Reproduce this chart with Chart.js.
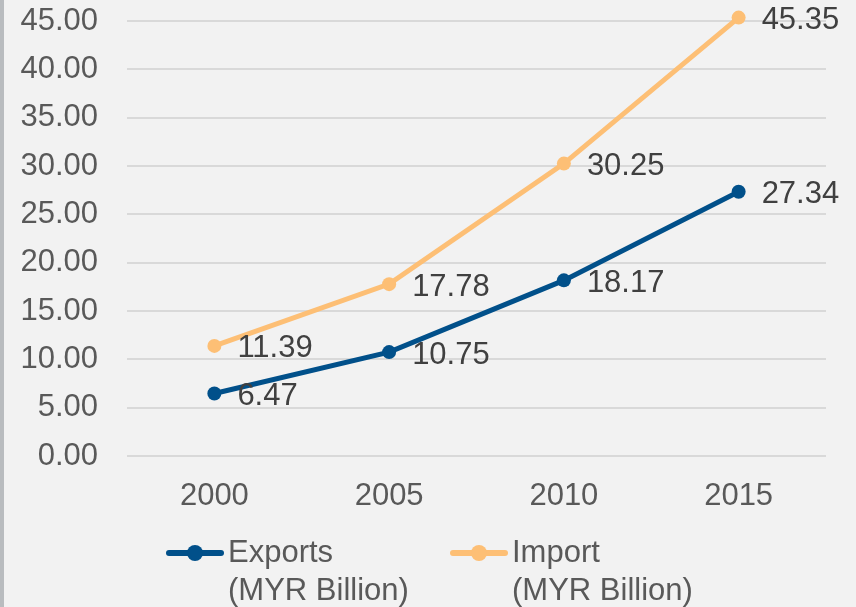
<!DOCTYPE html>
<html>
<head>
<meta charset="utf-8">
<script src="https://cdn.jsdelivr.net/npm/chart.js@4.4.0/dist/chart.umd.min.js"></script>
<style>
html,body{margin:0;padding:0;background:#f2f2f2;}
#wrap{position:relative;width:856px;height:607px;}
#edge{position:absolute;left:0;top:0;width:4px;height:607px;background:#b9bcbf;}
</style>
</head>
<body>
<div id="wrap"><div id="edge"></div><canvas id="c" width="856" height="607"></canvas></div>
<script>
const categories = ['2000', '2005', '2010', '2015'];
const exportsValues = [6.47, 10.75, 18.17, 27.34];
const importValues = [11.39, 17.78, 30.25, 45.35];
const seriesNames = [['Exports', '(MYR Billion)'], ['Import', '(MYR Billion)']];
const exportsColor = '#01508a';
const importColor = '#fdbf75';
const FONT = '"Liberation Sans", Arial, sans-serif';

const labelPlugin = {
  id: 'pointLabels',
  afterDatasetsDraw(chart) {
    const ctx = chart.ctx;
    ctx.save();
    ctx.font = '31px ' + FONT;
    ctx.fillStyle = '#404040';
    ctx.textAlign = 'left';
    ctx.textBaseline = 'middle';
    chart.data.datasets.forEach((ds, i) => {
      const meta = chart.getDatasetMeta(i);
      meta.data.forEach((pt, j) => {
        ctx.fillText(ds.data[j].toFixed(2), pt.x + 23, pt.y + 3);
      });
    });
    ctx.restore();
  }
};

const legendPlugin = {
  id: 'customLegend',
  afterDraw(chart) {
    const ctx = chart.ctx;
    ctx.save();
    const items = [
      {x: 167, color: exportsColor, text: seriesNames[0]},
      {x: 451, color: importColor, text: seriesNames[1]}
    ];
    const y = 553;
    items.forEach(it => {
      ctx.strokeStyle = it.color;
      ctx.lineWidth = 6;
      ctx.lineCap = 'round';
      ctx.beginPath();
      ctx.moveTo(it.x + 2, y);
      ctx.lineTo(it.x + 54, y);
      ctx.stroke();
      ctx.fillStyle = it.color;
      ctx.beginPath();
      ctx.arc(it.x + 28, y, 8, 0, Math.PI * 2);
      ctx.fill();
      ctx.fillStyle = '#595959';
      ctx.font = '31px ' + FONT;
      ctx.textAlign = 'left';
      ctx.textBaseline = 'middle';
      ctx.fillText(it.text[0], it.x + 61, y);
      ctx.fillText(it.text[1], it.x + 61, y + 38);
    });
    ctx.restore();
  }
};

new Chart(document.getElementById('c'), {
  type: 'line',
  data: {
    labels: categories,
    datasets: [
      {label: seriesNames[0].join(' '), data: exportsValues, borderColor: exportsColor, backgroundColor: exportsColor,
       borderWidth: 5, pointRadius: 7, pointHoverRadius: 7, pointBackgroundColor: exportsColor, pointBorderWidth: 0, tension: 0, clip: false},
      {label: seriesNames[1].join(' '), data: importValues, borderColor: importColor, backgroundColor: importColor,
       borderWidth: 5, pointRadius: 7, pointHoverRadius: 7, pointBackgroundColor: importColor, pointBorderWidth: 0, tension: 0, clip: false}
    ]
  },
  options: {
    responsive: false,
    animation: false,
    events: [],
    layout: {padding: {left: 0, right: 30, top: 21, bottom: 91}},
    plugins: {legend: {display: false}, tooltip: {enabled: false}},
    scales: {
      x: {
        offset: true,
        grid: {display: false, drawTicks: false},
        border: {display: false},
        ticks: {color: '#595959', font: {size: 31, family: FONT}, padding: 22},
        afterFit(s) { s.height = 60; s.paddingLeft = 0; s.paddingRight = 0; }
      },
      y: {
        min: 0, max: 45,
        grid: {color: '#d9d9d9', lineWidth: 2, drawTicks: false},
        border: {display: false},
        ticks: {stepSize: 5, color: '#595959', font: {size: 31, family: FONT}, padding: 29,
                callback: v => v.toFixed(2)},
        afterFit(s) { s.width = 127; s.paddingTop = 0; s.paddingBottom = 0; }
      }
    }
  },
  plugins: [labelPlugin, legendPlugin]
});
</script>
</body>
</html>
